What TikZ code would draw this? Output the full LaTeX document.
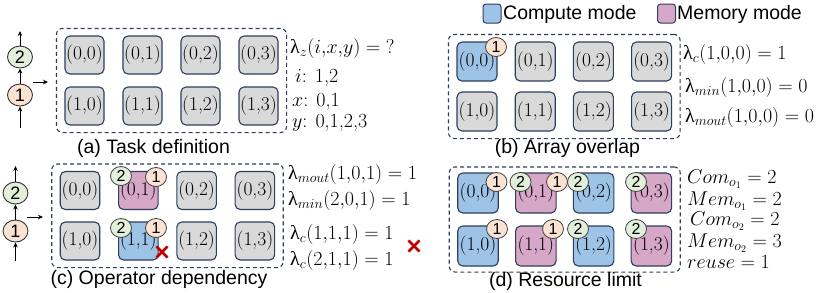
\RequirePackage{fix-cm}
\documentclass[tikz,border=0pt]{standalone}
\usepackage[no-math]{fontspec}
\newfontfamily\sansf{Liberation Sans}
\newfontfamily\grk{Liberation Serif}
\usetikzlibrary{arrows.meta,shapes.geometric,shapes.misc,fit}
\definecolor{navy}{RGB}{45,62,95}
\definecolor{cellgray}{RGB}{217,217,217}
\definecolor{compblue}{RGB}{157,195,230}
\definecolor{mempink}{RGB}{214,167,199}
\definecolor{opone}{RGB}{251,227,211}
\definecolor{optwo}{RGB}{226,239,218}
\definecolor{crossred}{RGB}{192,0,0}
\newcommand\lam{\mbox{\grk λ}}
\begin{document}
\begin{tikzpicture}[x=1pt,y=-1pt,
  cell/.style={draw=navy, line width=1.1pt, rounded corners=5pt, minimum width=39pt, minimum height=38pt, inner sep=0pt, font=\fontsize{19.5}{21}\selectfont},
  frame/.style={draw=navy, line width=1.1pt, dash pattern=on 4pt off 3pt, rounded corners=6pt, inner sep=0pt},
  badge/.style={ellipse, draw=black!75, line width=0.8pt, minimum width=21pt, minimum height=19pt, inner sep=0pt, font=\sansf\fontsize{16}{18}\selectfont},
  chainnode/.style={ellipse, draw=black!80, line width=0.9pt, minimum width=25pt, minimum height=22pt, inner sep=0pt, font=\sansf\fontsize{18}{20}\selectfont},
  arr/.style={-{Stealth[length=5pt,width=4.5pt]}, line width=1pt, black},
  lab/.style={anchor=base west, inner sep=0pt, font=\fontsize{20}{22}\selectfont},
  captxt/.style={anchor=base, inner sep=0pt, font=\sansf\fontsize{19.5}{22}\selectfont},
  legbox/.style={draw=navy, line width=1pt, rounded corners=3pt, minimum width=18pt, minimum height=19pt, inner sep=0pt},
  legtext/.style={anchor=base west, inner sep=0pt, font=\sansf\fontsize{19.5}{22}\selectfont},
  xmark/.style={cross out, draw=crossred, line width=2.6pt, minimum size=8.5pt, inner sep=0pt}
]
\fill[white] (0,0) rectangle (830,292);
\useasboundingbox (0,0) rectangle (830,292);

% ---------- legend
\node[legbox, fill=compblue] (lg1) at (492,13.5) {};
\node[legtext] (lt1) at (503,19) {Compute mode};
\node[legbox, fill=mempink] (lg2) at (666.5,13.5) {};
\node[legtext] (lt2) at (677,19) {Memory mode};

% ---------- panel (a)
\foreach \r in {0,1}
  \foreach \c in {0,1,2,3}
    \node[cell, fill=cellgray] (a\r\c) at ({84.5+58*\c},{55+51*\r}) {(\r,\c)};
\node[frame, fit=(a00)(a13), inner xsep=8pt, inner ysep=7pt] (fa) {};
\node[chainnode, fill=optwo] (ca2) at (20,57) {2};
\node[chainnode, fill=opone] (ca1) at (20,95) {1};
\coordinate (cab) at (20,128);
\coordinate (cat) at (20,31);
\draw[arr] (cab) -- (ca1);
\draw[arr] (ca1) -- (ca2);
\draw[arr] (ca2) -- (cat);
\coordinate (ra1) at (33,82);
\coordinate (ra2) at (48,82);
\draw[arr] (ra1) -- (ra2);
\node[lab] (la1) at (290,53) {$\lam_z(i{,}x{,}y) = {?}$};
\node[lab] (la2) at (295,82) {$i$: 1,2};
\node[lab] (la3) at (292,106) {$x$: 0,1};
\node[lab] (la4) at (292,127) {$y$: 0,1,2,3};
\node[captxt] (capa) at (153.5,153) {(a) Task definition};

% ---------- panel (b)
\foreach \r/\c/\f in {0/0/compblue,0/1/cellgray,0/2/cellgray,0/3/cellgray,1/0/cellgray,1/1/cellgray,1/2/cellgray,1/3/cellgray}
  \node[cell, fill=\f, minimum width=40pt, minimum height=39pt] (b\r\c) at ({477+58.2*\c},{61.5+50*\r}) {(\r,\c)};
\node[frame, fit=(b00)(b13), inner xsep=8pt, inner ysep=7pt] (fb) {};
\node[badge, fill=opone] (bb1) at (496,47) {1};
\node[lab] (lb1) at (683,59) {$\lam_c(1{,}0{,}0) = 1$};
\node[lab] (lb2) at (685,92) {$\lam_{min}(1{,}0{,}0) = 0$};
\node[lab] (lb3) at (685,122) {$\lam_{mout}(1{,}0{,}0) = 0$};
\node[captxt] (capb) at (567.5,153) {(b) Array overlap};

% ---------- panel (c)
\foreach \r/\c/\f in {0/0/cellgray,0/1/mempink,0/2/cellgray,0/3/cellgray,1/0/cellgray,1/1/compblue,1/2/cellgray,1/3/cellgray}
  \node[cell, fill=\f, minimum width=39.5pt] (c\r\c) at ({80+58.3*\c},{190.5+50.5*\r}) {(\r,\c)};
\node[frame, fit=(c00)(c13), inner xsep=8pt, inner ysep=7pt] (fc) {};
\node[badge, fill=optwo] (cb1) at (121,176) {2};
\node[badge, fill=opone] (cb2) at (156,177) {1};
\node[badge, fill=optwo] (cb3) at (121,228) {2};
\node[badge, fill=opone] (cb4) at (156,228) {1};
\node[xmark] (x1) at (162,252) {};
\node[chainnode, fill=optwo] (cc2) at (15.5,193) {2};
\node[chainnode, fill=opone] (cc1) at (15.5,231) {1};
\coordinate (ccb) at (15.5,261);
\coordinate (cct) at (15.5,166);
\draw[arr] (ccb) -- (cc1);
\draw[arr] (cc1) -- (cc2);
\draw[arr] (cc2) -- (cct);
\coordinate (rc1) at (27,217);
\coordinate (rc2) at (43,217);
\draw[arr] (rc1) -- (rc2);
\node[lab] (lc1) at (288,179) {$\lam_{mout}(1{,}0{,}1) = 1$};
\node[lab] (lc2) at (288,205) {$\lam_{min}(2{,}0{,}1) = 1$};
\node[lab] (lc3) at (290,239) {$\lam_c(1{,}1{,}1) = 1$};
\node[lab] (lc4) at (290,265) {$\lam_c(2{,}1{,}1) = 1$};
\node[xmark] (x2) at (414,246) {};
\node[captxt] (capc) at (159,284) {(c) Operator dependency};

% ---------- panel (d)
\foreach \r/\c/\f in {0/0/compblue,0/1/mempink,0/2/compblue,0/3/mempink,1/0/compblue,1/1/mempink,1/2/compblue,1/3/mempink}
  \node[cell, fill=\f, minimum width=40.5pt, minimum height=40pt] (d\r\c) at ({478+57.8*\c},{193+53*\r}) {(\r,\c)};
\node[frame, fit=(d00)(d13), inner xsep=8pt, inner ysep=5.5pt] (fd) {};
\node[badge, fill=opone] (db1) at (496.5,182) {1};
\node[badge, fill=optwo] (db2) at (520.5,182) {2};
\node[badge, fill=opone] (db3) at (557,182) {1};
\node[badge, fill=optwo] (db4) at (578,182) {2};
\node[badge, fill=optwo] (db5) at (636,182) {2};
\node[badge, fill=opone] (db6) at (497,229) {1};
\node[badge, fill=opone] (db7) at (553,229) {1};
\node[badge, fill=optwo] (db8) at (578,229) {2};
\node[badge, fill=optwo] (db9) at (636,229) {2};
\node[lab] (ld1) at (687,183) {$Com_{o_1} = 2$};
\node[lab] (ld2) at (687,205) {$Mem_{o_1} = 2$};
\node[lab] (ld3) at (690,225) {$Com_{o_2} = 2$};
\node[lab] (ld4) at (687,247) {$Mem_{o_2} = 3$};
\node[lab] (ld5) at (687,268) {$reuse = 1$};
\node[captxt] (capd) at (565.5,286) {(d) Resource limit};
\end{tikzpicture}
\end{document}
